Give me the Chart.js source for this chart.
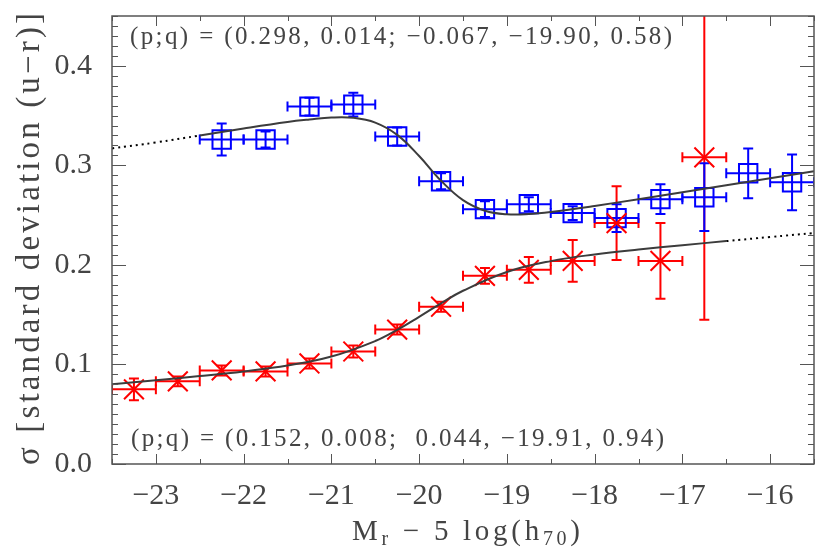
<!DOCTYPE html>
<html>
<head>
<meta charset="utf-8">
<script src="https://cdn.jsdelivr.net/npm/chart.js@4.4.1/dist/chart.umd.min.js"></script>
<style>
  html, body { margin: 0; padding: 0; background: #fff; }
  #wrap { width: 830px; height: 560px; }
</style>
</head>
<body>
<div id="wrap"><canvas id="sigmaChart" width="830" height="560"></canvas></div>
<script>
// tick labels
var xTicks = [-23, -22, -21, -20, -19, -18, -17, -16];
var yTicks = [0.0, 0.1, 0.2, 0.3, 0.4];

// half width of each magnitude bin
var binHalf = 0.25;

// blue squares
var blueMag = [-22.25, -21.75, -21.25, -20.75, -20.25, -19.75, -19.25, -18.75, -18.25, -17.75, -17.25, -16.75, -16.25, -15.75];
var blueSigma = [0.326, 0.326, 0.359, 0.361, 0.329, 0.284, 0.256, 0.261, 0.252, 0.247, 0.266, 0.268, 0.292, 0.283];
var blueErr = [0.016, 0.008, 0.009, 0.012, 0.009, 0.008, 0.008, 0.007, 0.007, 0.014, 0.015, 0.034, 0.025, 0.028];

// red crosses
var redMag = [-23.25, -22.75, -22.25, -21.75, -21.25, -20.75, -20.25, -19.75, -19.25, -18.75, -18.25, -17.75, -17.25, -16.75];
var redSigma = [0.075, 0.083, 0.094, 0.093, 0.101, 0.113, 0.135, 0.158, 0.189, 0.195, 0.204, 0.242, 0.204, 0.308];
var redErr = [0.011, 0.005, 0.005, 0.005, 0.005, 0.006, 0.005, 0.005, 0.008, 0.013, 0.021, 0.037, 0.038, 0.163];

// fitted curves (solid part and dotted extension)
var blueFitMag = [-22.5, -22, -21.5, -21.25, -21, -20.75, -20.5, -20.25, -20, -19.75, -19.5, -19.25, -19, -18.75, -18.5, -18, -17.5, -17, -16.5, -16, -15.5];
var blueFitSigma = [0.330, 0.337, 0.3435, 0.346, 0.348, 0.3477, 0.3429, 0.3306, 0.3094, 0.2845, 0.265, 0.2544, 0.2508, 0.251, 0.2531, 0.2592, 0.266, 0.273, 0.280, 0.287, 0.294];
var blueExtMag = [-23.5, -23, -22.5];
var blueExtSigma = [0.317, 0.323, 0.330];

var redFitMag = [-23.5, -23, -22.5, -22, -21.5, -21, -20.5, -20.25, -20, -19.75, -19.5, -19, -18.5, -18, -17.5, -17, -16.5];
var redFitSigma = [0.080, 0.0841, 0.0883, 0.093, 0.0989, 0.1079, 0.1235, 0.1347, 0.1478, 0.1614, 0.174, 0.1929, 0.2038, 0.2105, 0.2155, 0.2198, 0.2239];
var redExtMag = [-16.5, -16, -15.5];
var redExtSigma = [0.2239, 0.228, 0.232];

var labelTop = "(p;q) = (0.298, 0.014; \u22120.067, \u221219.90, 0.58)";
var labelBottom = "(p;q) = (0.152, 0.008;  0.044, \u221219.91, 0.94)";

var ink = "#444";
var serif = "'Liberation Serif', 'DejaVu Serif', serif";

function pts(xs, ys) {
  return xs.map(function (x, i) { return { x: x, y: ys[i] }; });
}

// draws text stretched with letter spacing so it spans the given width
function spacedText(ctx, text, x, y, width) {
  ctx.letterSpacing = "0px";
  var w = ctx.measureText(text).width;
  var n = Array.from(text).length;
  ctx.letterSpacing = ((width - w) / (n - 1)) + "px";
  ctx.textAlign = "left";
  ctx.fillText(text, x, y);
  ctx.letterSpacing = "0px";
}

var errorBars = {
  id: "errorBars",
  beforeDatasetsDraw: function (chart) {
    var ctx = chart.ctx, xs = chart.scales.x, ys = chart.scales.y, a = chart.chartArea;
    ctx.save();
    ctx.beginPath();
    ctx.rect(a.left, a.top, a.right - a.left, a.bottom - a.top);
    ctx.clip();
    chart.data.datasets.forEach(function (ds) {
      if (!ds.yErr) return;
      ctx.strokeStyle = ds.borderColor;
      ctx.lineWidth = 2;
      ds.data.forEach(function (p, i) {
        var px = xs.getPixelForValue(p.x), py = ys.getPixelForValue(p.y);
        var x0 = xs.getPixelForValue(p.x - ds.xErr), x1 = xs.getPixelForValue(p.x + ds.xErr);
        var y0 = ys.getPixelForValue(p.y - ds.yErr[i]), y1 = ys.getPixelForValue(p.y + ds.yErr[i]);
        var c = 5;
        ctx.beginPath();
        ctx.moveTo(x0, py); ctx.lineTo(x1, py);
        ctx.moveTo(x0, py - c); ctx.lineTo(x0, py + c);
        ctx.moveTo(x1, py - c); ctx.lineTo(x1, py + c);
        ctx.moveTo(px, y0); ctx.lineTo(px, y1);
        ctx.moveTo(px - c, y0); ctx.lineTo(px + c, y0);
        ctx.moveTo(px - c, y1); ctx.lineTo(px + c, y1);
        ctx.stroke();
      });
    });
    ctx.restore();
  }
};

var frameAndText = {
  id: "frameAndText",
  afterDraw: function (chart) {
    var ctx = chart.ctx, xs = chart.scales.x, ys = chart.scales.y, a = chart.chartArea;
    ctx.save();
    ctx.strokeStyle = "#555";
    ctx.lineWidth = 1.5;
    ctx.strokeRect(a.left, a.top, a.right - a.left, a.bottom - a.top);

    // inward ticks on all four sides
    ctx.lineWidth = 1;
    ctx.beginPath();
    for (var i = 0; i <= 16; i++) {
      var v = xs.min + i * 0.5;
      var px = Math.round(xs.getPixelForValue(v)) + 0.5;
      var len = Number.isInteger(v) ? 10 : 5;
      ctx.moveTo(px, a.bottom); ctx.lineTo(px, a.bottom - len);
      ctx.moveTo(px, a.top); ctx.lineTo(px, a.top + len);
    }
    for (var j = 0; j <= 45; j++) {
      var py = Math.round(ys.getPixelForValue(j * 0.01)) + 0.5;
      var ylen = j % 10 === 0 ? 14 : 6;
      ctx.moveTo(a.left, py); ctx.lineTo(a.left + ylen, py);
      ctx.moveTo(a.right, py); ctx.lineTo(a.right - ylen, py);
    }
    ctx.stroke();

    ctx.fillStyle = ink;
    ctx.textBaseline = "alphabetic";

    // fit parameter labels
    ctx.font = "25px " + serif;
    spacedText(ctx, labelTop, 130, 44, 542);
    spacedText(ctx, labelBottom, 131, 446, 533);

    // y title, rotated
    ctx.save();
    ctx.translate(39, 465);
    ctx.rotate(-Math.PI / 2);
    ctx.font = "33px " + serif;
    spacedText(ctx, "\u03c3 [standard deviation (u\u2212r)]", 0, 0, 452);
    ctx.restore();

    // x title with subscripts, spread to span 352..580
    var parts = [["M", 0], ["r", 1], [" \u2212 5 log(h", 0], ["70", 1], [")", 0]];
    var total = 0, chars = 0;
    parts.forEach(function (pt) {
      ctx.font = (pt[1] ? "20px " : "29px ") + serif;
      total += ctx.measureText(pt[0]).width;
      chars += Array.from(pt[0]).length;
    });
    var gap = (228 - total) / (chars - 1);
    var x = 352, base = 540;
    ctx.letterSpacing = gap + "px";
    parts.forEach(function (pt) {
      ctx.font = (pt[1] ? "20px " : "29px ") + serif;
      ctx.textAlign = "left";
      ctx.fillText(pt[0], x, base + (pt[1] ? 5 : 0));
      x += ctx.measureText(pt[0]).width;
    });
    ctx.restore();
  }
};

Chart.defaults.font.family = serif;
Chart.defaults.color = ink;

new Chart(document.getElementById("sigmaChart"), {
  type: "scatter",
  data: {
    datasets: [
      {
        data: pts(blueFitMag, blueFitSigma),
        showLine: true, tension: 0.4, pointRadius: 0,
        borderColor: "#3c3c3c", borderWidth: 2, order: 0
      },
      {
        data: pts(blueExtMag, blueExtSigma),
        showLine: true, tension: 0.4, pointRadius: 0,
        borderColor: "#000", borderWidth: 2, borderDash: [2, 4], order: 0
      },
      {
        data: pts(redFitMag, redFitSigma),
        showLine: true, tension: 0.4, pointRadius: 0,
        borderColor: "#3c3c3c", borderWidth: 2, order: 0
      },
      {
        data: pts(redExtMag, redExtSigma),
        showLine: true, tension: 0.4, pointRadius: 0,
        borderColor: "#000", borderWidth: 2, borderDash: [2, 4], order: 0
      },
      {
        data: pts(redMag, redSigma),
        yErr: redErr, xErr: binHalf,
        pointStyle: "crossRot", pointRadius: 14,
        borderColor: "#ff0000", backgroundColor: "#ff0000", borderWidth: 2, order: 1
      },
      {
        data: pts(blueMag, blueSigma),
        yErr: blueErr, xErr: binHalf,
        pointStyle: "rect", pointRadius: 13,
        borderColor: "#0000ff", backgroundColor: "rgba(0,0,0,0)", borderWidth: 2, order: 2
      }
    ]
  },
  options: {
    responsive: false,
    animation: false,
    events: [],
    layout: { padding: { left: 0, top: 13, right: 8, bottom: 0 } },
    plugins: { legend: { display: false }, tooltip: { enabled: false } },
    scales: {
      x: {
        type: "linear", min: -23.5, max: -15.5,
        afterFit: function (s) { s.height = 96; s.paddingLeft = 0; s.paddingRight = 0; },
        afterBuildTicks: function (s) { s.ticks = xTicks.map(function (v) { return { value: v }; }); },
        grid: { display: false, drawTicks: false },
        border: { display: false },
        ticks: {
          padding: 14, color: ink, font: { size: 30, family: serif },
          callback: function (v) { return String(v).replace("-", "\u2212"); }
        }
      },
      y: {
        type: "linear", min: 0, max: 0.45,
        afterFit: function (s) { s.width = 112; s.paddingTop = 0; s.paddingBottom = 0; },
        afterBuildTicks: function (s) { s.ticks = yTicks.map(function (v) { return { value: v }; }); },
        grid: { display: false, drawTicks: false },
        border: { display: false },
        ticks: {
          padding: 20, color: ink, font: { size: 30, family: serif },
          callback: function (v) { return v.toFixed(1); }
        }
      }
    }
  },
  plugins: [errorBars, frameAndText]
});
</script>
</body>
</html>
